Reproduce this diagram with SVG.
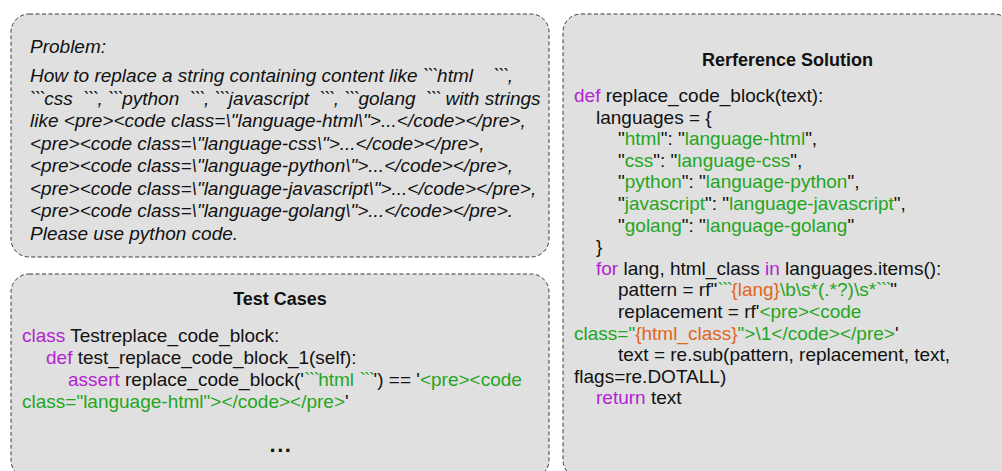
<svg xmlns="http://www.w3.org/2000/svg" width="1002" height="471" viewBox="0 0 1002 471">
<style>
.box{fill:#e0e0e0;stroke:#3a3a3a;stroke-width:1;stroke-dasharray:4 2.5}
text{font-family:"Liberation Sans",Arial,Helvetica,sans-serif;font-size:19px;fill:#111}
.it{font-style:italic}
.ttl{font-weight:bold;text-anchor:middle;font-size:18px}
.k{fill:#b224d2}
.s{fill:#1fa61f}
.o{fill:#e0661c}
.bt{letter-spacing:-1.6px}
.gap{letter-spacing:5px}
.dots{font-weight:bold;text-anchor:middle;font-size:22px;letter-spacing:1.5px}
</style>
<rect width="1002" height="471" fill="#ffffff"/>
<g id="problem">
<rect class="box" x="11" y="14" width="538" height="243" rx="18"/>
<text class="it" x="30" y="53">Problem:</text>
<text class="it" x="30" y="82" xml:space="preserve">How to replace a string containing content like <tspan class="bt">```</tspan>html<tspan class="gap">  </tspan><tspan class="bt">```</tspan>,</text>
<text class="it" x="30" y="104.5" xml:space="preserve"><tspan class="bt">```</tspan>css  <tspan class="bt">```</tspan>, <tspan class="bt">```</tspan>python  <tspan class="bt">```</tspan>, <tspan class="bt">```</tspan>javascript  <tspan class="bt">```</tspan>, <tspan class="bt">```</tspan>golang  <tspan class="bt">```</tspan> with strings</text>
<text class="it" x="30" y="127">like &lt;pre&gt;&lt;code class=\"language-html\"&gt;...&lt;/code&gt;&lt;/pre&gt;,</text>
<text class="it" x="30" y="149.5">&lt;pre&gt;&lt;code class=\"language-css\"&gt;...&lt;/code&gt;&lt;/pre&gt;,</text>
<text class="it" x="30" y="172">&lt;pre&gt;&lt;code class=\"language-python\"&gt;...&lt;/code&gt;&lt;/pre&gt;,</text>
<text class="it" x="30" y="194.5">&lt;pre&gt;&lt;code class=\"language-javascript\"&gt;...&lt;/code&gt;&lt;/pre&gt;,</text>
<text class="it" x="30" y="217">&lt;pre&gt;&lt;code class=\"language-golang\"&gt;...&lt;/code&gt;&lt;/pre&gt;.</text>
<text class="it" x="30" y="239.5">Please use python code.</text>
</g>
<g id="test-cases">
<rect class="box" x="11" y="274" width="538" height="204" rx="18"/>
<text class="ttl" x="280" y="305">Test Cases</text>
<text x="22" y="342" xml:space="preserve"><tspan class="k">class</tspan> Testreplace_code_block:</text>
<text x="46" y="364" xml:space="preserve"><tspan class="k">def</tspan> test_replace_code_block_1(self):</text>
<text x="68" y="386" xml:space="preserve"><tspan class="k">assert</tspan> replace_code_block('<tspan class="s"><tspan class="bt">```</tspan>html <tspan class="bt">```</tspan></tspan>') == '<tspan class="s">&lt;pre&gt;&lt;code</tspan></text>
<text x="22" y="408"><tspan class="s">class="language-html"&gt;&lt;/code&gt;&lt;/pre&gt;</tspan>'</text>
<text class="dots" x="281" y="452">...</text>
</g>
<g id="reference-solution">
<rect class="box" x="563" y="14" width="449" height="464" rx="18"/>
<text class="ttl" x="787.5" y="66">Rerference Solution</text>
<text x="574" y="102" xml:space="preserve"><tspan class="k">def</tspan> replace_code_block(text):</text>
<text x="596" y="123.6">languages = {</text>
<text x="618" y="145.2">"<tspan class="s">html</tspan>": "<tspan class="s">language-html</tspan>",</text>
<text x="618" y="166.8">"<tspan class="s">css</tspan>": "<tspan class="s">language-css</tspan>",</text>
<text x="618" y="188.4">"<tspan class="s">python</tspan>": "<tspan class="s">language-python</tspan>",</text>
<text x="618" y="210">"<tspan class="s">javascript</tspan>": "<tspan class="s">language-javascript</tspan>",</text>
<text x="618" y="231.6">"<tspan class="s">golang</tspan>": "<tspan class="s">language-golang</tspan>"</text>
<text x="596" y="253.2">}</text>
<text x="596" y="274.8" xml:space="preserve"><tspan class="k">for</tspan> lang, html_class <tspan class="k">in</tspan> languages.items():</text>
<text x="618" y="296.4">pattern = rf"<tspan class="s bt">```</tspan><tspan class="o">{lang}</tspan><tspan class="s">\b\s*(.*?)\s*<tspan class="bt">```</tspan></tspan>"</text>
<text x="618" y="318">replacement = rf'<tspan class="s">&lt;pre&gt;&lt;code</tspan></text>
<text x="574" y="339.6"><tspan class="s">class="</tspan><tspan class="o">{html_class}</tspan><tspan class="s">"&gt;\1&lt;/code&gt;&lt;/pre&gt;</tspan>'</text>
<text x="618" y="361.2">text = re.sub(pattern, replacement, text,</text>
<text x="574" y="382.8">flags=re.DOTALL)</text>
<text x="596" y="404.4" xml:space="preserve"><tspan class="k">return</tspan> text</text>
</g>
</svg>
